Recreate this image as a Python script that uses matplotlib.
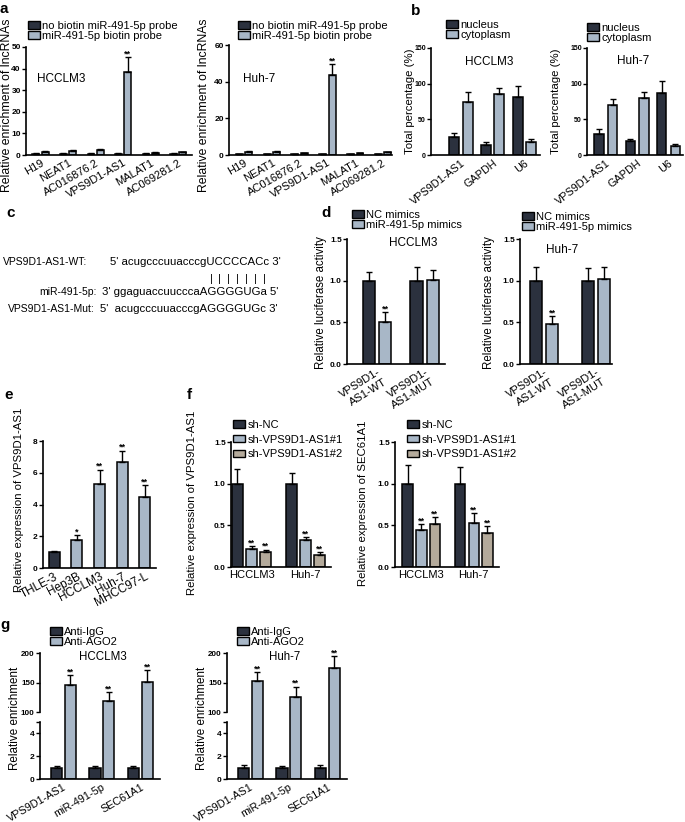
import matplotlib
matplotlib.use("Agg")
import matplotlib.pyplot as plt
import numpy as np
from matplotlib.patches import Patch

plt.rcParams['font.family'] = ['Liberation Sans', 'DejaVu Sans']

W, H = 685, 822
DARK = '#2b313e'
LIGHT = '#a8b7c7'
BEIGE = '#b4aa9b'

# ---- data ----
a_genes = ['H19', 'NEAT1', 'AC016876.2', 'VPS9D1-AS1', 'MALAT1', 'AC069281.2']
a_hcc_nb = [0.5, 0.5, 0.5, 0.5, 0.5, 0.5]
a_hcc_nb_err = [0.2, 0.2, 0.2, 0.2, 0.2, 0.2]
a_hcc_pr = [1.5, 2.0, 2.3, 38.5, 1.0, 1.2]
a_hcc_pr_err = [0.4, 0.4, 0.5, 7.0, 0.3, 0.3]
a_huh_nb = [0.5, 0.5, 0.5, 0.5, 0.5, 0.5]
a_huh_nb_err = [0.2, 0.2, 0.2, 0.2, 0.2, 0.2]
a_huh_pr = [1.8, 1.8, 1.0, 43.5, 1.0, 1.5]
a_huh_pr_err = [0.4, 0.4, 0.3, 6.0, 0.3, 0.4]

b_genes = ['VPS9D1-AS1', 'GAPDH', 'U6']
b_hcc_nuc = [25, 14, 81]
b_hcc_nuc_err = [6, 4, 16]
b_hcc_cyt = [74, 85, 18]
b_hcc_cyt_err = [15, 9, 4]
b_huh_nuc = [29, 19, 87]
b_huh_nuc_err = [7, 4, 17]
b_huh_cyt = [70, 80, 12]
b_huh_cyt_err = [8, 8, 3]

d_groups = ['VPS9D1-\nAS1-WT', 'VPS9D1-\nAS1-MUT']
d_hcc_nc = [1.0, 1.0]
d_hcc_nc_err = [0.10, 0.16]
d_hcc_mi = [0.50, 1.01]
d_hcc_mi_err = [0.12, 0.12]
d_huh_nc = [1.0, 1.0]
d_huh_nc_err = [0.16, 0.15]
d_huh_mi = [0.48, 1.02]
d_huh_mi_err = [0.10, 0.15]

e_cells = ['THLE-3', 'Hep3B', 'HCCLM3', 'Huh-7', 'MHCC97-L']
e_vals = [1.0, 1.75, 5.3, 6.65, 4.5]
e_err = [0.1, 0.3, 0.9, 0.75, 0.7]
e_stars = ['', '*', '**', '**', '**']

f_cells = ['HCCLM3', 'Huh-7']
f_vps_nc = [1.0, 1.0]
f_vps_nc_err = [0.18, 0.13]
f_vps_sh1 = [0.22, 0.32]
f_vps_sh1_err = [0.03, 0.04]
f_vps_sh2 = [0.18, 0.15]
f_vps_sh2_err = [0.03, 0.03]
f_sec_nc = [1.0, 1.0]
f_sec_nc_err = [0.23, 0.20]
f_sec_sh1 = [0.44, 0.53]
f_sec_sh1_err = [0.08, 0.12]
f_sec_sh2 = [0.52, 0.41]
f_sec_sh2_err = [0.08, 0.08]

g_genes = ['VPS9D1-AS1', 'miR-491-5p', 'SEC61A1']
g_hcc_igg = [1.0, 1.0, 1.0]
g_hcc_igg_err = [0.15, 0.15, 0.15]
g_hcc_ago = [145, 118, 151]
g_hcc_ago_err = [18, 16, 20]
g_huh_igg = [1.0, 1.0, 1.0]
g_huh_igg_err = [0.2, 0.15, 0.2]
g_huh_ago = [152, 125, 175]
g_huh_ago_err = [15, 18, 20]

fig = plt.figure(figsize=(W / 100, H / 100), dpi=100)


def add_ax(x0, y_top, x1, y_bot):
    return fig.add_axes([x0 / W, 1 - y_bot / H, (x1 - x0) / W, (y_bot - y_top) / H])


def style(ax, ysize=6):
    for s in ['top', 'right']:
        ax.spines[s].set_visible(False)
    for s in ['left', 'bottom']:
        ax.spines[s].set_linewidth(1.2)
    ax.tick_params(axis='y', direction='out', length=3, width=1, labelsize=ysize, pad=0.8)
    ax.tick_params(axis='x', length=0, labelsize=8, pad=2)
    for t in ax.get_yticklabels():
        t.set_fontweight('bold')


def bars(ax, x, vals, errs, color, width, stars=None, fs=6.5):
    ax.bar(x, vals, width, color=color, edgecolor='black', linewidth=1.1, zorder=2)
    ax.errorbar(x, vals, yerr=[np.zeros(len(vals)), errs], fmt='none', ecolor='black',
                elinewidth=1, capsize=2.5, capthick=1, zorder=3)
    if stars:
        for xi, v, e, s in zip(x, vals, errs, stars):
            if s:
                ax.annotate(s, (xi, v + e), xytext=(0, -1), textcoords='offset points',
                            ha='center', va='bottom', fontsize=fs, fontweight='bold')


def legend(x, y, labels, colors, spacing=0.0):
    handles = [Patch(facecolor=c, edgecolor='black', linewidth=1) for c in colors]
    fig.legend(handles, labels, loc='upper left', bbox_to_anchor=(x / W, 1 - y / H),
               frameon=False, fontsize=8, handlelength=1.1, handleheight=0.65,
               handletextpad=0.2, labelspacing=spacing, borderpad=0, borderaxespad=0)


def letter(x, y, s):
    fig.text(x / W, 1 - y / H, s, fontsize=11, fontweight='bold', va='center', ha='left')


def ftext(x, y, s, size=8.5, ha='center'):
    fig.text(x / W, 1 - y / H, s, fontsize=size, va='center', ha=ha)


def ylab(ax, s, x, y, x0, x1, y0, y1, size=8.3):
    # x: right side of the rotated label, in figure pixels
    ax.set_ylabel(s, fontsize=size)
    ax.yaxis.set_label_coords((x - x0) / (x1 - x0), (y1 - y) / (y1 - y0))


def xlabels_rot(ax, labels, rot=30, size=8):
    ax.set_xticklabels(labels, rotation=rot, ha='right', rotation_mode='anchor', fontsize=size)


# ---- panel a ----
xa = np.arange(len(a_genes))
for (x0, x1, ytop, nb, nbe, pr, pre, ymax, ystep, name, lx, tx, xl, lgx) in [
        (26, 192, 47, a_hcc_nb, a_hcc_nb_err, a_hcc_pr, a_hcc_pr_err, 50, 10, 'HCCLM3', 13.5, 37,
         (-0.53, 5.5), 28),
        (229, 392, 45, a_huh_nb, a_huh_nb_err, a_huh_pr, a_huh_pr_err, 60, 20, 'Huh-7', 210, 243,
         (-0.54, 5.32), 238)]:
    ax = add_ax(x0, ytop, x1, 155)
    st = ['**' if v > 10 else '' for v in pr]
    bars(ax, xa - 0.17, nb, nbe, DARK, 0.25)
    bars(ax, xa + 0.17, pr, pre, LIGHT, 0.25, st)
    ax.set_ylim(0, ymax)
    ax.set_yticks(np.arange(0, ymax + 1, ystep))
    ax.set_xlim(*xl)
    ax.set_xticks(xa)
    style(ax)
    xlabels_rot(ax, a_genes, rot=30, size=8)
    ylab(ax, 'Relative enrichment of lncRNAs', lx, 105, x0, x1, ytop, 155, size=8.8)
    ftext(tx, 79, name, ha='left')
    legend(lgx, 21, ['no biotin miR-491-5p probe', 'miR-491-5p biotin probe'], [DARK, LIGHT])
letter(0, 9, 'a')

# ---- panel b ----
xb = np.arange(len(b_genes))
for (x0, x1, nuc, nuce, cyt, cyte, name, lx, tx, ty, lgx, lgy, xl, off, bw) in [
        (431, 540, b_hcc_nuc, b_hcc_nuc_err, b_hcc_cyt, b_hcc_cyt_err, 'HCCLM3', 415, 489, 62,
         446, 20, (-0.95, 2.5), 0.21, 0.32),
        (587, 683, b_huh_nuc, b_huh_nuc_err, b_huh_cyt, b_huh_cyt_err, 'Huh-7', 561, 633, 61,
         587, 23, (-0.6, 2.46), 0.22, 0.3)]:
    ax = add_ax(x0, 48, x1, 155)
    bars(ax, xb - off, nuc, nuce, DARK, bw)
    bars(ax, xb + off, cyt, cyte, LIGHT, bw)
    ax.set_ylim(0, 150)
    ax.set_yticks([0, 50, 100, 150])
    ax.set_xlim(*xl)
    ax.set_xticks(xb)
    style(ax, ysize=5)
    xlabels_rot(ax, b_genes, rot=38, size=7.8)
    ylab(ax, 'Total percentage (%)', lx, 101, x0, x1, 48, 155, size=8.2)
    ftext(tx, ty, name)
    legend(lgx, lgy, ['nucleus', 'cytoplasm'], [DARK, LIGHT])
letter(411, 11, 'b')

# ---- panel c ----
letter(6, 213, 'c')
ftext(87, 262, 'VPS9D1-AS1-WT:', size=7.5, ha='right')
ftext(110, 262, "5' acugcccuuacccgUCCCCACc 3'", size=8.2, ha='left')
for i in range(7):
    ftext(211 + i * 8.9, 279, '|', size=8)
ftext(97, 292, 'miR-491-5p:', size=7.5, ha='right')
ftext(102, 292, "3' ggaguaccuucccaAGGGGUGa 5'", size=8.2, ha='left')
ftext(95, 309, 'VPS9D1-AS1-Mut:', size=7.5, ha='right')
ftext(100, 309, "5'  acugcccuuacccgAGGGGUGc 3'", size=8.2, ha='left')

# ---- panel d ----
xd = np.arange(len(d_groups))
for (x0, x1, nc, nce, mi, mie, name, lx, tx, ty, lgx, lgy, xl, off, bw) in [
        (347, 445, d_hcc_nc, d_hcc_nc_err, d_hcc_mi, d_hcc_mi_err, 'HCCLM3', 327, 413, 243,
         352, 210, (-0.625, 1.42), 0.17, 0.26),
        (520, 612, d_huh_nc, d_huh_nc_err, d_huh_mi, d_huh_mi_err, 'Huh-7', 495, 562, 250,
         522, 212, (-0.46, 1.31), 0.16, 0.23)]:
    ax = add_ax(x0, 239, x1, 364)
    bars(ax, xd - off, nc, nce, DARK, bw)
    bars(ax, xd + off, mi, mie, LIGHT, bw, ['**', ''])
    ax.set_ylim(0, 1.5)
    ax.set_yticks([0, 0.5, 1.0, 1.5])
    ax.set_yticklabels(['0.0', '0.5', '1.0', '1.5'])
    ax.set_xlim(*xl)
    ax.set_xticks(xd)
    style(ax)
    xlabels_rot(ax, d_groups, rot=32, size=8)
    ylab(ax, 'Relative luciferase activity', lx, 303, x0, x1, 239, 364)
    ftext(tx, ty, name)
    legend(lgx, lgy, ['NC mimics', 'miR-491-5p mimics'], [DARK, LIGHT])
letter(321, 213, 'd')

# ---- panel e ----
xe = np.arange(len(e_cells))
ax = add_ax(43, 441, 156, 568)
bars(ax, xe[:1], e_vals[:1], e_err[:1], DARK, 0.48)
bars(ax, xe[1:], e_vals[1:], e_err[1:], LIGHT, 0.48, e_stars[1:])
ax.set_ylim(0, 8)
ax.set_yticks([0, 2, 4, 6, 8])
ax.set_xlim(-0.5, 4.5)
ax.set_xticks(xe)
style(ax)
xlabels_rot(ax, e_cells, rot=28, size=8.5)
ylab(ax, 'Relative expression of VPS9D1-AS1', 24, 500, 43, 156, 441, 568, size=8.2)
letter(4, 395, 'e')

# ---- panel f ----
xf = np.arange(len(f_cells))
for (x0, x1, nc, nce, s1, s1e, s2, s2e, ylabel, lx, lgx, xl) in [
        (231, 331, f_vps_nc, f_vps_nc_err, f_vps_sh1, f_vps_sh1_err, f_vps_sh2, f_vps_sh2_err,
         'Relative expression of VPS9D1-AS1', 197, 233, (-0.38, 1.47)),
        (395, 499, f_sec_nc, f_sec_nc_err, f_sec_sh1, f_sec_sh1_err, f_sec_sh2, f_sec_sh2_err,
         'Relative expression of SEC61A1', 368, 407, (-0.5, 1.48))]:
    ax = add_ax(x0, 442, x1, 567)
    bars(ax, xf - 0.26, nc, nce, DARK, 0.2)
    bars(ax, xf, s1, s1e, LIGHT, 0.2, ['**', '**'])
    bars(ax, xf + 0.26, s2, s2e, BEIGE, 0.2, ['**', '**'])
    ax.set_ylim(0, 1.5)
    ax.set_yticks([0, 0.5, 1.0, 1.5])
    ax.set_yticklabels(['0.0', '0.5', '1.0', '1.5'])
    ax.set_xlim(*xl)
    ax.set_xticks(xf)
    ax.set_xticklabels(f_cells)
    style(ax)
    ylab(ax, ylabel, lx, 503, x0, x1, 442, 567, size=8.2)
    legend(lgx, 420, ['sh-NC', 'sh-VPS9D1-AS1#1', 'sh-VPS9D1-AS1#2'], [DARK, LIGHT, BEIGE],
           spacing=0.42)
letter(187, 395, 'f')

# ---- panel g (broken axis) ----
xg = np.arange(len(g_genes))
for (x0, x1, igg, igge, ago, agoe, name, tx, lx, lgx) in [
        (40, 160, g_hcc_igg, g_hcc_igg_err, g_hcc_ago, g_hcc_ago_err, 'HCCLM3', 103, 15, 50),
        (227, 347, g_huh_igg, g_huh_igg_err, g_huh_ago, g_huh_ago_err, 'Huh-7', 285, 202, 237)]:
    up = add_ax(x0, 653, x1, 712)
    mid = add_ax(x0, 712, x1, 722)
    lo = add_ax(x0, 722, x1, 779)
    bars(up, xg + 0.18, ago, agoe, LIGHT, 0.29, ['**'] * 3)
    mid.bar(xg + 0.18, ago, 0.29, color=LIGHT, edgecolor='black', linewidth=1.1)
    bars(lo, xg - 0.18, igg, igge, DARK, 0.29)
    lo.bar(xg + 0.18, ago, 0.29, color=LIGHT, edgecolor='black', linewidth=1.1, zorder=2)
    up.set_ylim(100, 200)
    up.set_yticks([100, 150, 200])
    mid.set_ylim(5, 100)
    lo.set_ylim(0, 5)
    lo.set_yticks([0, 2, 4, 5])
    for a in (up, mid, lo):
        a.set_xlim(-0.61, 2.51)
    style(up, ysize=5.8)
    style(lo)
    lo.set_yticklabels(['0', '2', '4', ''], fontweight='bold')
    up.spines['bottom'].set_visible(False)
    up.set_xticks([])
    mid.axis('off')
    lo.set_xticks(xg)
    xlabels_rot(lo, g_genes, rot=30, size=7.8)
    fig.text(lx / W, 1 - 718 / H, 'Relative enrichment', rotation=90, fontsize=8.4,
             ha='center', va='center')
    ftext(tx, 657, name, size=8.3)
    legend(lgx, 627, ['Anti-IgG', 'Anti-AGO2'], [DARK, LIGHT])
letter(0, 625, 'g')

fig.savefig('out.png', dpi=100)
